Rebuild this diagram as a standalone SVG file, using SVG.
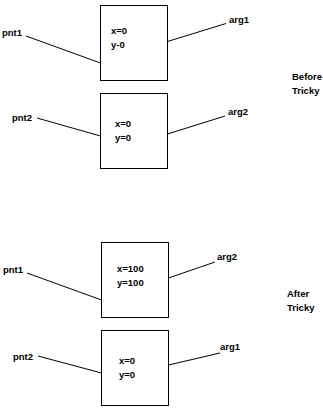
<svg xmlns="http://www.w3.org/2000/svg" width="323" height="409" viewBox="0 0 323 409">
<style>
.box{fill:#fff;stroke:#000;stroke-width:1}
.ln{stroke:#000;stroke-width:1;fill:none}
text{font-family:"Liberation Sans",Arial,sans-serif;font-weight:bold;font-size:9.5px;fill:#000}
</style>
<rect width="323" height="409" fill="#fff"/>
<g id="connectors">
<line class="ln" x1="26" y1="36" x2="100.5" y2="63"/>
<line class="ln" x1="167.5" y1="41.5" x2="226" y2="23.5"/>
<line class="ln" x1="37" y1="118" x2="100.5" y2="136"/>
<line class="ln" x1="167.5" y1="134" x2="225" y2="116"/>
<line class="ln" x1="27" y1="273" x2="101.5" y2="300"/>
<line class="ln" x1="168.5" y1="278" x2="215" y2="262"/>
<line class="ln" x1="38" y1="356" x2="101.5" y2="373"/>
<line class="ln" x1="168.5" y1="365" x2="220" y2="353"/>
</g>
<g id="box1"><rect class="box" x="100.5" y="5.5" width="67" height="75"/><text x="111" y="34">x=0</text><text x="111" y="48">y-0</text></g>
<g id="box2"><rect class="box" x="100.5" y="93.5" width="67" height="75"/><text x="115" y="127">x=0</text><text x="115" y="141">y=0</text></g>
<g id="box3"><rect class="box" x="101.5" y="242.5" width="67" height="75"/><text x="117" y="272">x=100</text><text x="117" y="286">y=100</text></g>
<g id="box4"><rect class="box" x="101.5" y="330.5" width="67" height="75"/><text x="119" y="364">x=0</text><text x="119" y="378">y=0</text></g>
<g id="labels">
<text x="2" y="36">pnt1</text>
<text x="229" y="23">arg1</text>
<text x="12" y="121">pnt2</text>
<text x="228" y="115">arg2</text>
<text x="292" y="80">Before</text>
<text x="292" y="94">Tricky</text>
<text x="3" y="273">pnt1</text>
<text x="217" y="260">arg2</text>
<text x="287" y="297">After</text>
<text x="287" y="311">Tricky</text>
<text x="13" y="360">pnt2</text>
<text x="220" y="350">arg1</text>
</g>
</svg>
